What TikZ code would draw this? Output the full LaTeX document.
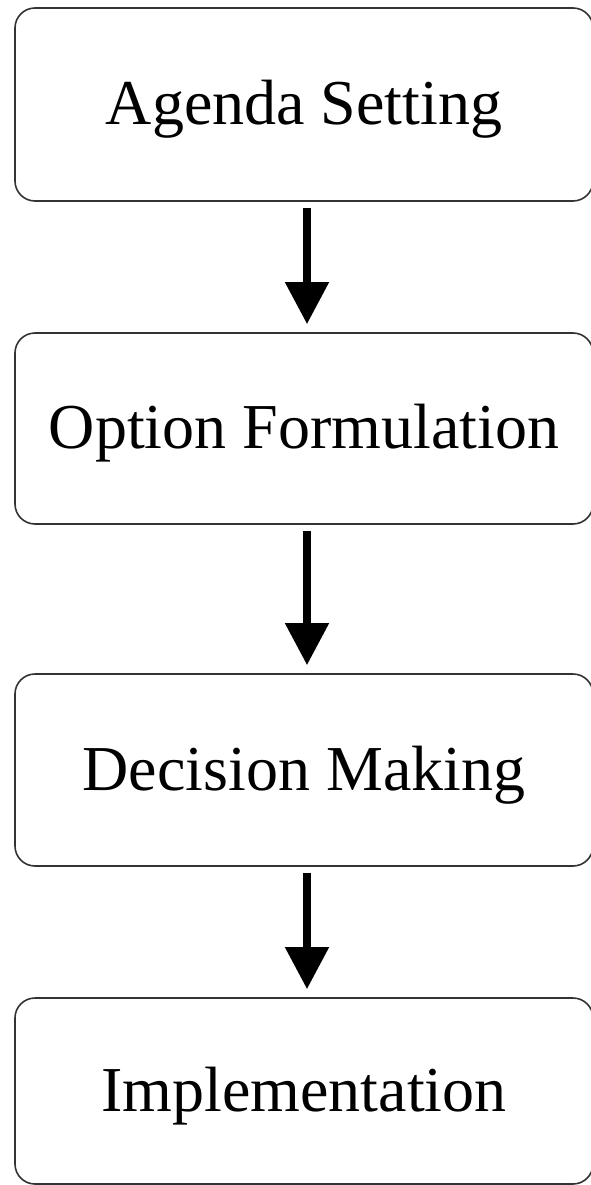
\documentclass[tikz,border=0pt]{standalone}
\usepackage{fontspec}
\setmainfont{Liberation Serif}
\usepackage{tikz}
\usetikzlibrary{arrows.meta}

\tikzset{
  stagebox/.style={draw=black!80, line width=1.6pt, rounded corners=20pt, minimum width=578pt, inner sep=0pt, text height=50pt, text depth=10pt, font=\fontsize{64}{72}\selectfont},
  flowarrow/.style={line width=8pt, -{Triangle[width=42pt,length=42pt]}, shorten <=6pt, shorten >=8pt}
}

\begin{document}
\begin{tikzpicture}[x=1pt, y=-1pt]
\useasboundingbox (0,0) rectangle (591,1185);

\node[stagebox, minimum height=193pt] (agenda) at (304,104.5) {Agenda Setting};
\node[stagebox, minimum height=191pt] (option) at (304,428.5) {Option Formulation};
\node[stagebox, minimum height=192pt] (decision) at (304,770) {Decision Making};
\node[stagebox, minimum height=186pt] (impl) at (304,1091) {Implementation};

\draw[flowarrow] ([xshift=3pt]agenda.south) -- ([xshift=3pt]option.north);
\draw[flowarrow] ([xshift=3pt]option.south) -- ([xshift=3pt]decision.north);
\draw[flowarrow] ([xshift=3pt]decision.south) -- ([xshift=3pt]impl.north);
\end{tikzpicture}
\end{document}
